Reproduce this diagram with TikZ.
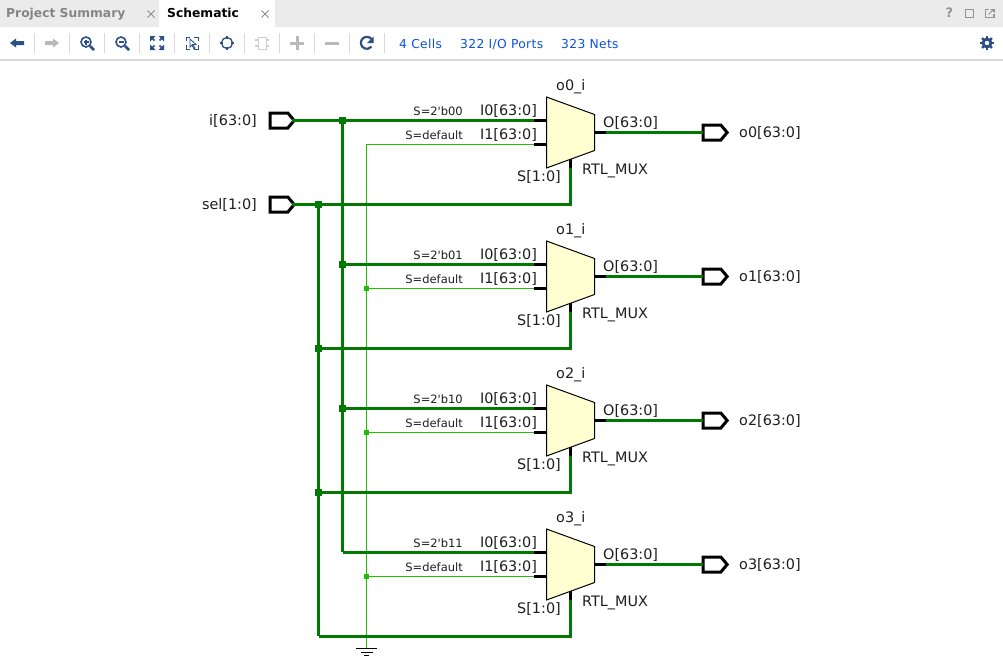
\documentclass[tikz,border=0pt]{standalone}
\usepackage{fontspec}
\setmainfont{DejaVu Sans}
\newfontfamily\linkfont[LetterSpace=2.8]{DejaVu Sans}
\usepackage{xcolor}
\usetikzlibrary{shapes.symbols}
\definecolor{bus-green}{HTML}{007A00}
\definecolor{net-green}{HTML}{22BE00}
\definecolor{mux-yellow}{HTML}{FFFFD2}
\definecolor{bar-gray}{HTML}{EBEBEB}
\definecolor{tool-blue}{HTML}{2C4F86}
\definecolor{tool-gray}{HTML}{B9B9B9}
\definecolor{link-blue}{HTML}{0B52E0}
\tikzset{
  bus/.style={draw=bus-green, line width=3pt},
  net/.style={draw=net-green, line width=1pt},
  stub/.style={draw=black, line width=3pt},
  muxbox/.style={draw=black, line width=1pt, fill=mux-yellow},
  portbox/.style={signal, signal to=east, signal pointer angle=100, draw=black,
    line width=3pt, fill=white, minimum width=24pt, minimum height=15pt,
    inner sep=0pt, outer sep=0pt},
  busdot/.style={rectangle, fill=bus-green, minimum size=7pt, inner sep=0pt},
  netdot/.style={rectangle, fill=net-green, minimum size=5pt, inner sep=0pt},
  pinlabel/.style={font=\fontsize{14.4}{16}\selectfont, text=black!88, inner sep=0pt},
  selectlabel/.style={font=\fontsize{11.5}{13}\selectfont, text=black!88, inner sep=0pt},
  tablabel/.style={font=\fontsize{12.3}{14}\bfseries\selectfont, inner sep=0pt, anchor=base west},
  linklabel/.style={font=\fontsize{12.3}{14}\linkfont\selectfont, text=link-blue, inner sep=0pt, anchor=base west},
  sepline/.style={draw=black!15, line width=1pt},
}
\begin{document}
\begin{tikzpicture}[x=1pt, y=-1pt]
    \useasboundingbox (0,0) rectangle (1003,664);
    \fill[white] (0,0) rectangle (1003,664);

    % tab bar and tool bar
    \fill[bar-gray] (0,0) rectangle (1003,27);
    \fill[white] (161,0) rectangle (275,27);
    \fill[white] (159,0) rectangle (161,27);
    \fill[black!15] (0,59) rectangle (1003,61);
    \node[tablabel, text=black!48] (tab-summary) at (6,17) {Project Summary};
    \node[tablabel, text=black] (tab-schematic) at (167,17) {Schematic};
    \foreach \cx/\cc in {151/black!45, 265/black!45} {
      \draw[\cc, line width=1pt] (\cx-3.5,10.5) -- (\cx+3.5,17.5) (\cx-3.5,17.5) -- (\cx+3.5,10.5);
    }
    \foreach \sx in {34,69,...,384} {
      \draw[sepline] (\sx,33) -- (\sx,53);
    }
    % back and forward
    \fill[tool-blue] (10,43) -- (16,38.5) -- (16,41) -- (24,41) -- (24,45) -- (16,45) -- (16,47.5) -- cycle;
    \fill[tool-gray] (59,43) -- (53,38.5) -- (53,41) -- (45,41) -- (45,45) -- (53,45) -- (53,47.5) -- cycle;
    % zoom in and out
    \foreach \cx/\sgn in {86/1, 121/0} {
      \draw[tool-blue, line width=1.6pt] (\cx,42) circle (5pt);
      \draw[tool-blue, line width=2.6pt] (\cx+4,46) -- (\cx+8,50);
      \draw[tool-blue, line width=1.2pt] (\cx-2.5,42) -- (\cx+2.5,42);
      \ifnum\sgn=1 \draw[tool-blue, line width=1.2pt] (\cx,39.5) -- (\cx,44.5); \fi
    }
    % fit
    \foreach \dx/\dy in {-1/-1, 1/-1, -1/1, 1/1} {
      \fill[tool-blue] (157+\dx*7,43+\dy*7) -- (157+\dx*1.5,43+\dy*7) -- (157+\dx*7,43+\dy*1.5) -- cycle;
      \draw[tool-blue, line width=1.6pt] (157+\dx*5,43+\dy*5) -- (157+\dx*2.5,43+\dy*2.5);
    }
    % zoom area
    \draw[tool-blue, line width=1pt] (186,41) -- (186,37) -- (190,37) (194,37) -- (198,37) -- (198,41)
      (186,45) -- (186,49) -- (190,49) (194,49) -- (198,49) -- (198,45);
    \draw[tool-blue, fill=white, line width=0.8pt] (190,39) -- (190,47) -- (192,45) -- (194,49) -- (195,48) -- (193,44.5) -- (196,44.5) -- cycle;
    % center
    \draw[tool-blue, line width=1.3pt] (227,43) circle (5.5pt);
    \draw[tool-blue, line width=1.2pt] (227,36) -- (227,39) (227,47) -- (227,50) (220,43) -- (223,43) (231,43) -- (234,43);
    % ghost, plus, minus
    \draw[tool-gray!70, line width=1pt] (258,37) rectangle (266,49);
    \draw[tool-gray!70, line width=1.4pt] (255,40) -- (258,40) (255,46) -- (258,46) (266,40) -- (269,40) (266,46) -- (269,46);
    \draw[tool-gray, line width=3pt] (290,43) -- (304,43) (297,36) -- (297,50);
    \draw[tool-gray, line width=3pt] (325,43) -- (339,43);
    % reload
    \draw[tool-blue, line width=2.2pt] (371.5,39) arc (40:320:6pt);
    \fill[tool-blue] (373.5,36.5) -- (373.5,43) -- (367,43) -- cycle;
    % gear
    \fill[tool-blue] (987,43) circle (5.5pt);
    \foreach \ang in {0,45,...,315} {
      \draw[tool-blue, line width=2.4pt] (987,43) -- ++(\ang:7pt);
    }
    \fill[white] (987,43) circle (2.2pt);
    % window buttons
    \node[font=\fontsize{13}{14}\bfseries\selectfont, text=black!42, inner sep=0pt] (help-mark) at (949.5,13) {?};
    \draw[black!42, line width=1.6pt] (965.5,9.5) rectangle (973.5,17.5);
    \draw[black!42, line width=1.5pt] (989,9.5) -- (985.5,9.5) -- (985.5,17.5) -- (994,17.5) -- (994,14);
    \fill[black!42] (990,9) -- (995,9) -- (995,13) -- cycle;
    \draw[black!42, line width=1pt] (992,11) -- (988.5,14.5);

    \node[linklabel] (cells-count) at (399,48.5) {4 Cells};
    \node[linklabel] (ports-count) at (460,48.5) {322 I/O Ports};
    \node[linklabel] (nets-count) at (561,48.5) {323 Nets};

    % ports and junctions
    \node[portbox] (port-i) at (279,120.5) {};
    \node[portbox] (port-sel) at (279,204.5) {};
    \coordinate (tip-i) at (292,120);
    \coordinate (tip-sel) at (292,204);
    \node[pinlabel, anchor=base east] (label-i) at (257,125) {i[63:0]};
    \node[pinlabel, anchor=base east] (label-sel) at (257,209) {sel[1:0]};

    \node[busdot] (tap-i0) at (342.5,120) {};
    \node[busdot] (tap-i1) at (342.5,264) {};
    \node[busdot] (tap-i2) at (342.5,408) {};
    \coordinate (tap-i3) at (342.5,552);
    \node[busdot] (tap-sel0) at (318.5,204) {};
    \node[busdot] (tap-sel1) at (318.5,348) {};
    \node[busdot] (tap-sel2) at (318.5,492) {};
    \coordinate (tap-sel3) at (318.5,636);
    \coordinate (tap-gnd0) at (366.5,144);
    \node[netdot] (tap-gnd1) at (366.5,288) {};
    \node[netdot] (tap-gnd2) at (366.5,432) {};
    \node[netdot] (tap-gnd3) at (366.5,576) {};
    \coordinate (gnd-top) at (366.5,648);

    \draw[net] (tap-gnd0) -- (gnd-top);
    \draw[bus] (tap-i0.center) -- (tap-i3);
    \draw[bus] (tap-sel0.center) -- (tap-sel3);

    \foreach \n/\yoff/\code in {0/0/00, 1/144/01, 2/288/10, 3/432/11} {
      \begin{scope}[shift={(0,\yoff)}]
        \coordinate (o\n-a0) at (534,120);
        \coordinate (o\n-a1) at (534,144);
        \coordinate (o\n-b0) at (546,120);
        \coordinate (o\n-b1) at (546,144);
        \coordinate (o\n-s) at (570.5,168);
        \coordinate (o\n-st) at (570.5,158.5);
        \coordinate (o\n-o) at (606,132);
        \coordinate (o\n-ob) at (594.5,132);
        \coordinate (o\n-pin) at (703,132);
        \node[portbox] (o\n-port) at (712,132.5) {};
        \draw[bus] (tap-i\n.center) -- (o\n-a0);
        \draw[net] (tap-gnd\n.center) -- (o\n-a1);
        \draw[bus] (tap-sel\n.center) -| (o\n-s);
        \draw[bus] (o\n-o) -- (o\n-pin);
        \draw[muxbox] (546.5,97) -- (594.5,114.5) -- (594.5,150.5) -- (546.5,168) -- cycle;
        \draw[stub] (o\n-a0) -- (o\n-b0);
        \draw[stub] (o\n-a1) -- (o\n-b1);
        \draw[stub] (o\n-s) -- (o\n-st);
        \draw[stub] (o\n-o) -- (o\n-ob);
        \node[pinlabel, anchor=base] (o\n-i0) at (508.5,115) {I0[63:0]};
        \node[pinlabel, anchor=base] (o\n-i1) at (508.5,139) {I1[63:0]};
        \node[pinlabel, anchor=base] (o\n-sl) at (539,181) {S[1:0]};
        \node[pinlabel, anchor=base west] (o\n-ol) at (603,127) {O[63:0]};
        \node[pinlabel, anchor=base west] (o\n-ty) at (582,174) {RTL\_MUX};
        \node[pinlabel, anchor=base west] (o\n-nm) at (556,90) {o\n\_i};
        \node[pinlabel, anchor=base west] (o\n-pl) at (739,137) {o\n[63:0]};
        \node[selectlabel, anchor=base east] (o\n-s0) at (463,115) {S=2\textquotesingle b\code};
        \node[selectlabel, anchor=base east] (o\n-s1) at (463,139) {S=default};
      \end{scope}
    }

    \draw[bus] (tip-i) -- (tap-i0.center);
    \draw[bus] (tip-sel) -- (tap-sel0.center);
    % ground
    \draw[black, line width=1pt] (356,648) -- (377,648) (361,652) -- (373,652) (364,655.5) -- (369,655.5);
\end{tikzpicture}
\end{document}
